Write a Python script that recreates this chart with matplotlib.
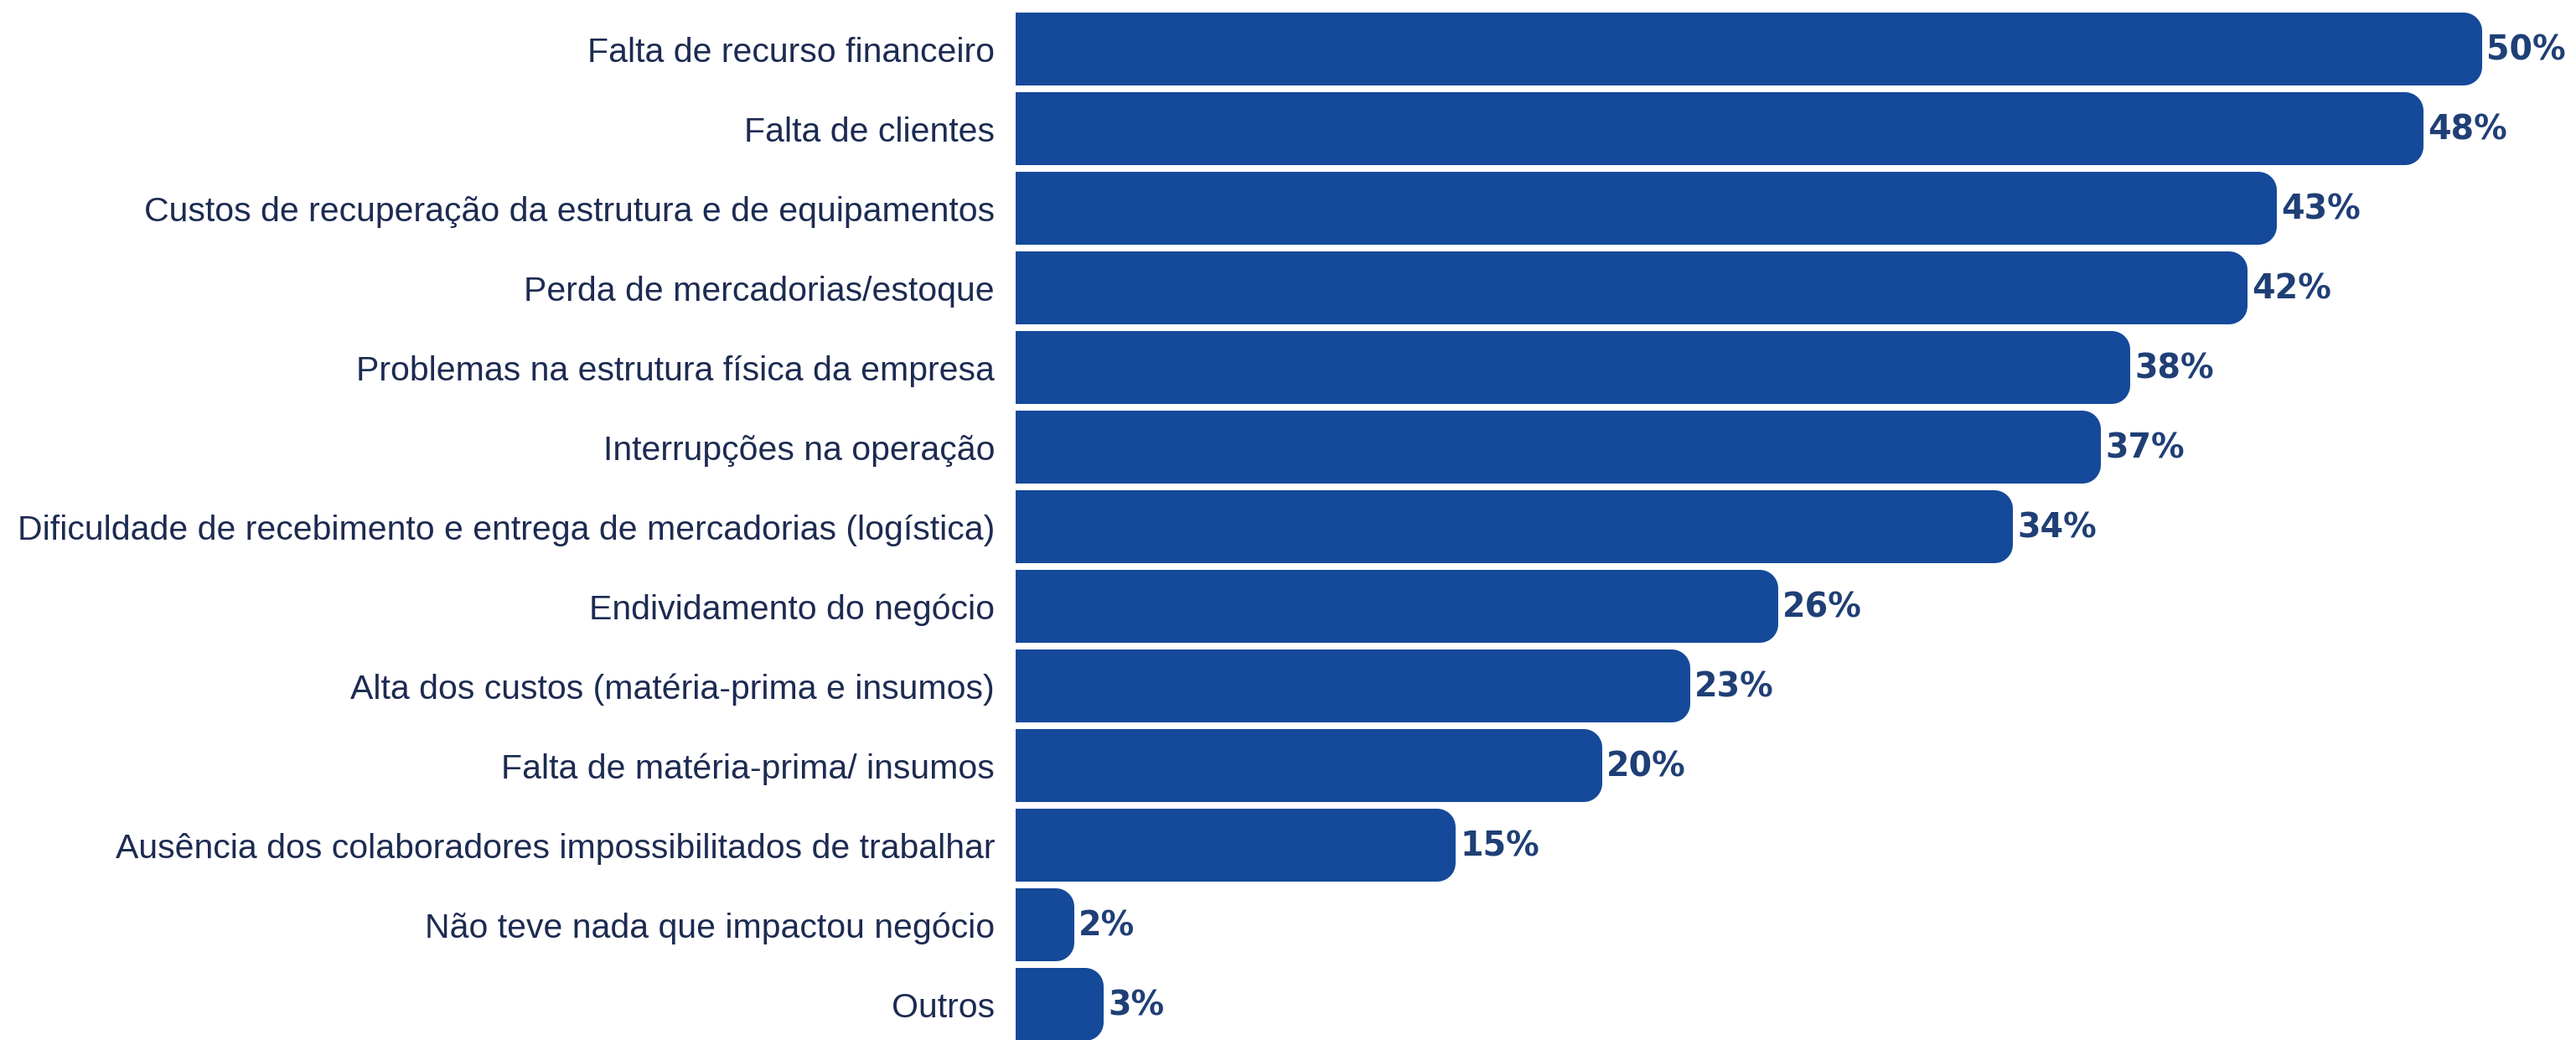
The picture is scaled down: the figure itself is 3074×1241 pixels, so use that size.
import matplotlib
matplotlib.use("Agg")
import matplotlib.pyplot as plt
import numpy as np
from matplotlib.patches import PathPatch
from matplotlib.path import Path

categories = [
    "Falta de recurso financeiro",
    "Falta de clientes",
    "Custos de recuperação da estrutura e de equipamentos",
    "Perda de mercadorias/estoque",
    "Problemas na estrutura física da empresa",
    "Interrupções na operação",
    "Dificuldade de recebimento e entrega de mercadorias (logística)",
    "Endividamento do negócio",
    "Alta dos custos (matéria-prima e insumos)",
    "Falta de matéria-prima/ insumos",
    "Ausência dos colaboradores impossibilitados de trabalhar",
    "Não teve nada que impactou negócio",
    "Outros",
]
values = [50, 48, 43, 42, 38, 37, 34, 26, 23, 20, 15, 2, 3]

BAR_COLOR = "#15499a"
LABEL_COLOR = "#1d2b52"
VALUE_COLOR = "#1f3f76"

W, H, DPI = 3074, 1241, 100
fig = plt.figure(figsize=(W / DPI, H / DPI), dpi=DPI)
ax_left = 1212 / W
ax = fig.add_axes([ax_left, 0, 1 - ax_left, 1])

px_per_unit_x = 35.0          # pixels per percent
pitch = 95.0                  # pixels per bar slot
top_center = 58.5             # pixel y of first bar centre
ax.set_xlim(0, (W - 1212) / px_per_unit_x)
ax.set_ylim((H - top_center) / pitch, -top_center / pitch)

bar_h = 87 / pitch
radius_px = 22
rx = radius_px / px_per_unit_x
ry = radius_px / pitch


def rounded_bar(ax, y, width, height):
    # square on the left, rounded on the right
    r_x = min(rx, width)
    r_y = min(ry, height / 2)
    y0, y1 = y - height / 2, y + height / 2
    t = np.linspace(0, np.pi / 2, 12)
    pts = [(0, y0), (width - r_x, y0)]
    cx, cy = width - r_x, y0 + r_y
    pts += [(cx + r_x * np.sin(a), cy - r_y * np.cos(a)) for a in t]
    cx, cy = width - r_x, y1 - r_y
    pts += [(cx + r_x * np.cos(a), cy + r_y * np.sin(a)) for a in t]
    pts += [(0, y1), (0, y0)]
    ax.add_patch(PathPatch(Path(pts, closed=True), facecolor=BAR_COLOR, edgecolor="none"))


y_pos = np.arange(len(categories))
for y, v in zip(y_pos, values):
    rounded_bar(ax, y, v, bar_h)
    ax.text(v + 0.15, y + 0.02, f"{v}%", ha="left", va="center",
            fontsize=28.5, fontweight="bold", color=VALUE_COLOR,
            family="DejaVu Sans")

ax.set_yticks(y_pos)
ax.set_yticklabels(categories, fontsize=29.5, color=LABEL_COLOR,
                   family="Liberation Sans")
ax.tick_params(axis="y", length=0, pad=18)
ax.set_xticks([])
for s in ax.spines.values():
    s.set_visible(False)

fig.savefig("out.png", dpi=DPI)
